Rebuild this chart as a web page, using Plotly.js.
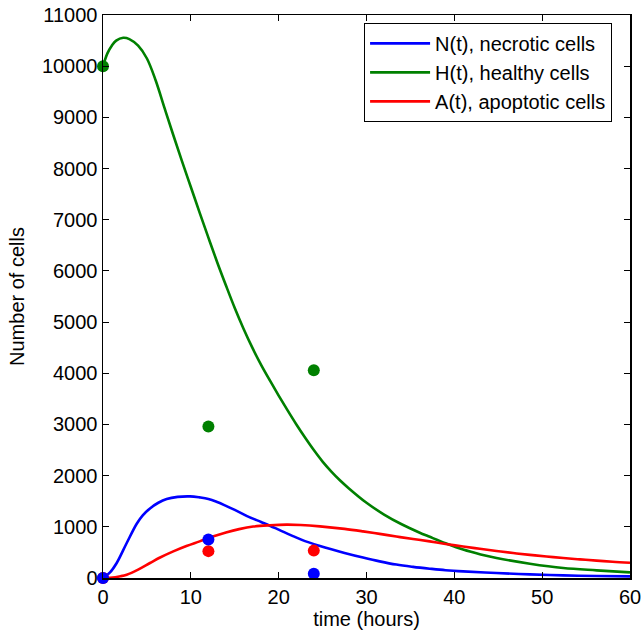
<!DOCTYPE html>
<html>
<head>
<meta charset="utf-8">
<script src="https://cdn.plot.ly/plotly-3.0.1.min.js"></script>
<style>html,body{margin:0;padding:0;background:#fff;}</style>
</head>
<body>
<div id="chart" style="width:644px;height:635px;"></div>
<script>
// Model curves
const tN = [0, 0.8, 1.56, 2.7, 3.84, 4.5, 5.35, 6.3, 7.25, 8.5, 9.9, 11, 12, 13, 14, 15, 16.4, 18, 19, 20, 21.7, 23, 24.7, 26, 27.5, 29.6, 31.5, 33.4, 35.3, 37.2, 39, 41, 44.8, 48.6, 52.4, 56.2, 60];
const N  = [0, 110, 293, 684, 1060, 1220, 1360, 1470, 1544, 1585, 1595, 1575, 1545, 1485, 1410, 1330, 1210, 1095, 1022, 945, 813, 720, 625, 560, 490, 400, 325, 262, 218, 182, 152, 129, 98, 70, 51, 39, 31];

const tH = [0, 0.5, 1, 1.5, 2.3, 3, 4, 5, 6, 7, 8, 9, 10, 11, 12, 13, 14, 15, 16, 17, 18, 19, 20, 21, 22, 23, 24, 25, 26, 27, 28, 30, 32, 34, 36, 37.2, 39, 41, 43, 44.8, 48.6, 52.4, 56.2, 60];
const H  = [10000, 10250, 10400, 10500, 10555, 10530, 10400, 10150, 9720, 9185, 8655, 8140, 7640, 7140, 6650, 6170, 5715, 5275, 4870, 4500, 4165, 3860, 3565, 3280, 3005, 2745, 2500, 2275, 2080, 1905, 1750, 1470, 1240, 1050, 890, 805, 680, 555, 460, 391, 280, 195, 149, 109];

const tA = [0, 0.8, 2, 2.7, 4, 5.35, 6.5, 8, 9.5, 11, 12.5, 14, 15.5, 17.1, 19, 20.9, 22.5, 24.7, 27.5, 29.6, 31.5, 33.4, 35.3, 37.2, 39, 41, 42.9, 44.8, 46.7, 48.6, 50.5, 52.4, 54.3, 56.2, 58, 60];
const A  = [0, 5, 35, 65, 165, 293, 400, 520, 625, 716, 810, 890, 955, 1005, 1030, 1042, 1035, 1009, 960, 911, 862, 810, 762, 715, 665, 615, 570, 527, 488, 452, 420, 390, 364, 340, 318, 299];

// Observed data
const tObs = [0, 12, 24];
const Nobs = [0, 750, 85];
const Hobs = [10000, 2960, 4060];
const Aobs = [0, 525, 535];

const names = ['N(t), necrotic cells', 'H(t), healthy cells', 'A(t), apoptotic cells'];
const cBlue = '#0000ff', cGreen = '#008000', cRed = '#ff0000';

function line(x, y, name, color) {
  return {x: x, y: y, name: name, type: 'scatter', mode: 'lines',
          line: {color: color, width: 2.6, shape: 'spline', smoothing: 1},
          hoverinfo: 'skip'};
}
function dots(x, y, color) {
  return {x: x, y: y, type: 'scatter', mode: 'markers', showlegend: false,
          cliponaxis: false, marker: {color: color, size: 12}, hoverinfo: 'skip'};
}

const data = [
  line(tN, N, names[0], cBlue),
  line(tH, H, names[1], cGreen),
  line(tA, A, names[2], cRed),
  dots(tObs, Hobs, cGreen),
  dots(tObs, Aobs, cRed),
  dots(tObs, Nobs, cBlue)
];

const font = {family: 'Liberation Sans, Arial, Helvetica, sans-serif', size: 20, color: '#000'};

const axisCommon = {
  showgrid: false, zeroline: false, showline: true, linecolor: '#000', linewidth: 1.5,
  mirror: 'ticks', ticks: 'inside', ticklen: 6, tickwidth: 1, tickcolor: '#000',
  tickfont: font, automargin: false, tickformat: 'd'
};

const layout = {
  width: 644, height: 635,
  margin: {l: 103, r: 14, t: 15, b: 57, pad: 0},
  paper_bgcolor: '#fff', plot_bgcolor: '#fff',
  font: font,
  showlegend: true,
  xaxis: Object.assign({}, axisCommon, {
    range: [0, 60], dtick: 10, tick0: 0,
    title: {text: 'time (hours)', font: font, standoff: 4}
  }),
  yaxis: Object.assign({}, axisCommon, {
    range: [0, 11000], dtick: 1000, tick0: 0,
    title: {text: 'Number of cells', font: font, standoff: 12}
  }),
  legend: {
    x: 0.966, xanchor: 'right', y: 0.986, yanchor: 'top',
    bgcolor: '#fff', bordercolor: '#000', borderwidth: 1,
    font: {family: font.family, size: 20, color: '#000'},
    itemwidth: 60, tracegroupgap: 0
  }
};

Plotly.newPlot('chart', data, layout, {displayModeBar: false, staticPlot: true});
</script>
</body>
</html>
